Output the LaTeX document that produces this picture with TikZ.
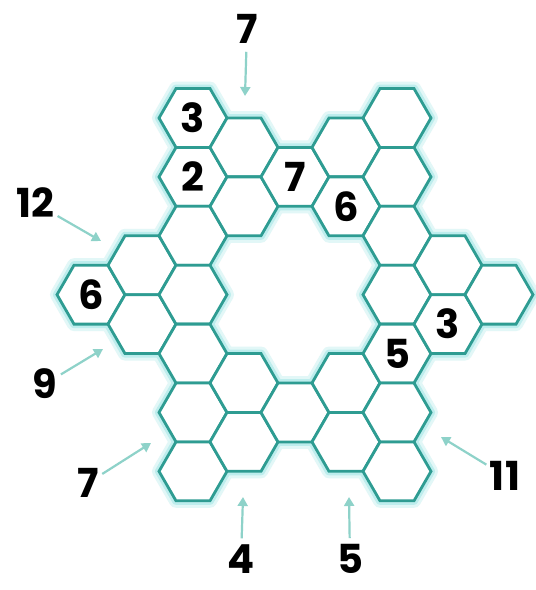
\documentclass[tikz,border=0pt]{standalone}
\usepackage{fontspec}
\newfontfamily\numfam{Poppins}
\usetikzlibrary{arrows.meta,shapes.geometric}
\definecolor{hexteal}{HTML}{2E9C92}
\definecolor{arrteal}{HTML}{8ED2C9}
\definecolor{glowA}{HTML}{E2F7F7}
\definecolor{glowB}{HTML}{BDEDED}
\pgfdeclarelayer{background}
\pgfsetlayers{background,main}
\tikzset{
  hexcell/.style={regular polygon, regular polygon sides=6, minimum size=68pt,
    inner sep=0pt, outer sep=0pt, draw=hexteal, fill=white, line width=2.8pt,
    font=\numfam\bfseries\fontsize{40}{40}\selectfont, text=black},
  lab/.style={font=\numfam\bfseries\fontsize{40}{40}\selectfont, inner sep=0pt, text=black},
  arr/.style={draw=arrteal, line width=2.2pt, -{Triangle[length=9pt,width=10pt]}, shorten <=4pt},
  glowwide/.style={draw=glowA, line width=14pt, line join=round},
  glownarrow/.style={draw=glowB, line width=8pt, line join=round},
}
\begin{document}
\begin{tikzpicture}[x=1pt,y=-1pt]
\useasboundingbox (0,0) rectangle (536,590);
% hex cells: column c, row k, printed digit
\foreach \c/\k/\t in {0/3/6, 1/2/{}, 1/3/{},
  2/0/3, 2/1/2, 2/2/{}, 2/3/{}, 2/4/{}, 2/5/{}, 2/6/{},
  3/0/{}, 3/1/{}, 3/4/{}, 3/5/{},
  4/1/7, 4/5/{},
  5/0/{}, 5/1/6, 5/4/{}, 5/5/{},
  6/0/{}, 6/1/{}, 6/2/{}, 6/3/{}, 6/4/5, 6/5/{}, 6/6/{},
  7/2/{}, 7/3/3, 8/3/{}}
  \node[hexcell] (h\c\k) at ({91+51*\c},{118+58.89*(\k+0.5*mod(\c,2))}) {\t};
\begin{pgfonlayer}{background}
  \fill[white] (0,0) rectangle (536,590);
  \foreach \n in {h03,h12,h13,h20,h21,h22,h23,h24,h25,h26,h30,h31,h34,h35,h41,h45,
                  h50,h51,h54,h55,h60,h61,h62,h63,h64,h65,h66,h72,h73,h83}
    \draw[glowwide] (\n.corner 1) -- (\n.corner 2) -- (\n.corner 3) -- (\n.corner 4)
      -- (\n.corner 5) -- (\n.corner 6) -- cycle;
  \foreach \n in {h03,h12,h13,h20,h21,h22,h23,h24,h25,h26,h30,h31,h34,h35,h41,h45,
                  h50,h51,h54,h55,h60,h61,h62,h63,h64,h65,h66,h72,h73,h83}
    \draw[glownarrow] (\n.corner 1) -- (\n.corner 2) -- (\n.corner 3) -- (\n.corner 4)
      -- (\n.corner 5) -- (\n.corner 6) -- cycle;
\end{pgfonlayer}
% outer labels
\node[lab] (ltop) at (247,29) {7};
\node[lab] (l12) at (35,203) {12};
\node[lab] (l9) at (45,384) {9};
\node[lab] (l7) at (88,483) {7};
\node[lab] (l11) at (505,476) {11};
\node[lab] (l4) at (241,559) {4};
\node[lab] (l5) at (350,559) {5};
% arrow tips
\coordinate (atop) at (245,96);
\coordinate (a12) at (101,241);
\coordinate (a9) at (103,349);
\coordinate (a7) at (151,443);
\coordinate (a11) at (441,437);
\coordinate (a4) at (243,497);
\coordinate (a5) at (349,497);
\draw[arr, shorten <=8pt] (ltop) -- (atop);
\draw[arr] (l12) -- (a12);
\draw[arr] (l9) -- (a9);
\draw[arr] (l7) -- (a7);
\draw[arr] (l11) -- (a11);
\draw[arr, shorten <=6pt] (l4) -- (a4);
\draw[arr, shorten <=6pt] (l5) -- (a5);
\end{tikzpicture}
\end{document}
